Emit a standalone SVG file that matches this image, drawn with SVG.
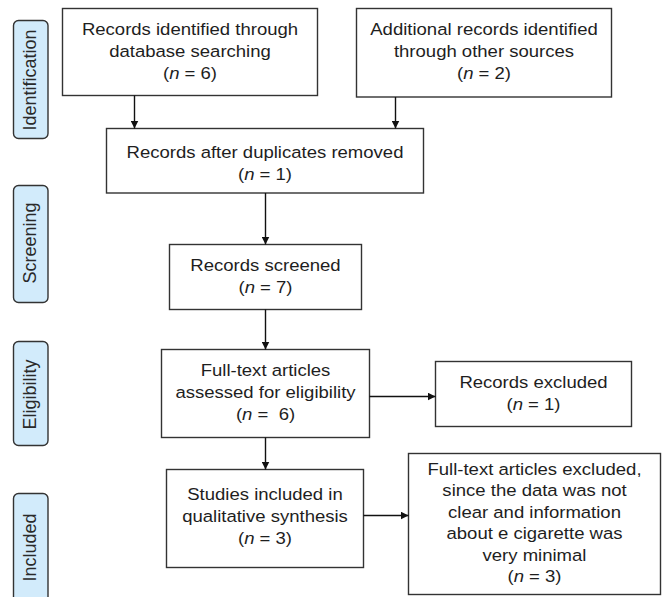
<svg xmlns="http://www.w3.org/2000/svg" width="662" height="597" viewBox="0 0 662 597">
<defs>
<marker id="ah" viewBox="0 0 10 10" refX="10" refY="5" markerWidth="8" markerHeight="8" markerUnits="userSpaceOnUse" orient="auto">
<path d="M0,0 L10,5 L0,10 Z" fill="#111"/>
</marker>
<style>
.box{fill:#fff;stroke:#333;stroke-width:1.4}
.side{fill:#d2ebfb;stroke:#333;stroke-width:1.4}
.t{font-family:"Liberation Sans",Arial,sans-serif;font-size:16.7px;fill:#1e1e1e;text-anchor:middle;white-space:pre}
.s{font-family:"Liberation Sans",Arial,sans-serif;font-size:18px;fill:#2a2a2a;text-anchor:middle}
.c{stroke:#111;stroke-width:1.4;fill:none;marker-end:url(#ah)}
</style>
</defs>
<rect width="662" height="597" fill="#fff"/>
<g id="side-identification">
<rect class="side" x="13.5" y="20.5" width="34.5" height="118" rx="5"/>
<text class="s" transform="matrix(0 -1 1 0 35.5 80)" x="0" y="0">Identification</text>
</g>
<g id="side-screening">
<rect class="side" x="13.5" y="185.5" width="34.5" height="117" rx="5"/>
<text class="s" transform="matrix(0 -1 1 0 35.5 243)" x="0" y="0">Screening</text>
</g>
<g id="side-eligibility">
<rect class="side" x="13.5" y="341.5" width="34.5" height="104" rx="5"/>
<text class="s" transform="matrix(0 -1 1 0 35.5 394.5)" x="0" y="0">Eligibility</text>
</g>
<g id="side-included">
<rect class="side" x="13.5" y="493.5" width="34.5" height="120" rx="5"/>
<text class="s" transform="matrix(0 -1 1 0 35.5 547.5)" x="0" y="0">Included</text>
</g>
<g id="n-db">
<rect class="box" x="62.5" y="8.5" width="255" height="87"/>
<text class="t" transform="matrix(1.11 0 0 1 190 0)"><tspan x="0" y="35">Records identified through</tspan><tspan x="0" y="57">database searching</tspan><tspan x="0" y="79">(<tspan font-style="italic">n</tspan> = 6)</tspan></text>
</g>
<g id="n-other">
<rect class="box" x="356.5" y="8.5" width="255" height="88.5"/>
<text class="t" transform="matrix(1.11 0 0 1 484 0)"><tspan x="0" y="35">Additional records identified</tspan><tspan x="0" y="57">through other sources</tspan><tspan x="0" y="79">(<tspan font-style="italic">n</tspan> = 2)</tspan></text>
</g>
<g id="n-dup">
<rect class="box" x="106.5" y="128.5" width="317" height="64.5"/>
<text class="t" transform="matrix(1.11 0 0 1 265 0)"><tspan x="0" y="158">Records after duplicates removed</tspan><tspan x="0" y="180">(<tspan font-style="italic">n</tspan> = 1)</tspan></text>
</g>
<g id="n-screened">
<rect class="box" x="169.5" y="244.5" width="192" height="65"/>
<text class="t" transform="matrix(1.11 0 0 1 265.5 0)"><tspan x="0" y="271">Records screened</tspan><tspan x="0" y="293">(<tspan font-style="italic">n</tspan> = 7)</tspan></text>
</g>
<g id="n-fulltext">
<rect class="box" x="161.5" y="349.5" width="208" height="88"/>
<text class="t" transform="matrix(1.11 0 0 1 265.5 0)"><tspan x="0" y="376">Full-text articles</tspan><tspan x="0" y="398">assessed for eligibility</tspan><tspan x="0" y="420">(<tspan font-style="italic">n</tspan> =  6)</tspan></text>
</g>
<g id="n-excluded">
<rect class="box" x="435.5" y="361.5" width="196" height="65"/>
<text class="t" transform="matrix(1.11 0 0 1 533.5 0)"><tspan x="0" y="388">Records excluded</tspan><tspan x="0" y="410">(<tspan font-style="italic">n</tspan> = 1)</tspan></text>
</g>
<g id="n-included">
<rect class="box" x="166.5" y="469.5" width="197" height="98"/>
<text class="t" transform="matrix(1.11 0 0 1 265 0)"><tspan x="0" y="500">Studies included in</tspan><tspan x="0" y="522">qualitative synthesis</tspan><tspan x="0" y="544">(<tspan font-style="italic">n</tspan> = 3)</tspan></text>
</g>
<g id="n-ftexcluded">
<rect class="box" x="408.5" y="453.5" width="252" height="141"/>
<text class="t" transform="matrix(1.11 0 0 1 534.5 0)"><tspan x="0" y="475">Full-text articles excluded,</tspan><tspan x="0" y="496.5">since the data was not</tspan><tspan x="0" y="518">clear and information</tspan><tspan x="0" y="539.5">about e cigarette was</tspan><tspan x="0" y="561">very minimal</tspan><tspan x="0" y="582.5">(<tspan font-style="italic">n</tspan> = 3)</tspan></text>
</g>
<g id="connectors">
<line class="c" x1="134.5" y1="95.5" x2="134.5" y2="128.5"/>
<line class="c" x1="395.5" y1="97" x2="395.5" y2="128.5"/>
<line class="c" x1="265.5" y1="193" x2="265.5" y2="244.5"/>
<line class="c" x1="265.5" y1="309.5" x2="265.5" y2="349.5"/>
<line class="c" x1="369.5" y1="396.5" x2="435.5" y2="396.5"/>
<line class="c" x1="265.5" y1="437.5" x2="265.5" y2="469.5"/>
<line class="c" x1="363.5" y1="515.5" x2="408.5" y2="515.5"/>
</g>
</svg>
